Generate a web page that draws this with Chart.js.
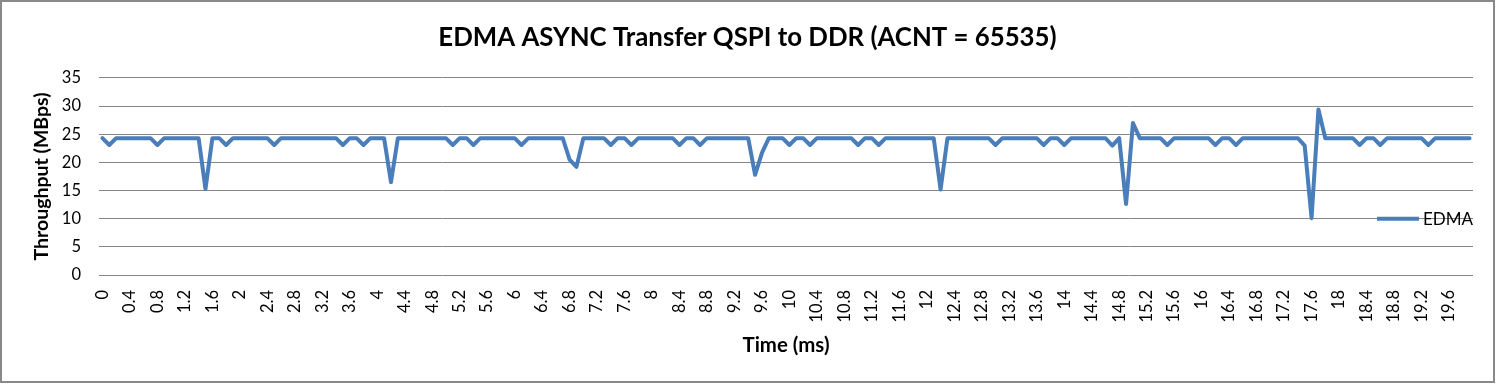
<!DOCTYPE html>
<html>
<head>
<meta charset="utf-8">
<title>EDMA ASYNC Transfer QSPI to DDR</title>
<script src="https://cdn.jsdelivr.net/npm/chart.js@4.4.1/dist/chart.umd.min.js"></script>
<style>
  body { margin: 0; background: #fff; }
  #wrap { position: absolute; left: 0; top: 0; width: 1491px; height: 379px; border: 2px solid #898989; background: #fff; }
</style>
</head>
<body>
<div id="wrap"><canvas id="chart"></canvas></div>
<script>
// Time axis categories (ms), one sample every 0.1 ms
const timeMs = [
  0, 0.1, 0.2, 0.3, 0.4, 0.5, 0.6, 0.7, 0.8, 0.9, 1, 1.1, 1.2, 1.3, 1.4, 1.5, 1.6, 1.7, 1.8, 1.9,
  2, 2.1, 2.2, 2.3, 2.4, 2.5, 2.6, 2.7, 2.8, 2.9, 3, 3.1, 3.2, 3.3, 3.4, 3.5, 3.6, 3.7, 3.8, 3.9,
  4, 4.1, 4.2, 4.3, 4.4, 4.5, 4.6, 4.7, 4.8, 4.9, 5, 5.1, 5.2, 5.3, 5.4, 5.5, 5.6, 5.7, 5.8, 5.9,
  6, 6.1, 6.2, 6.3, 6.4, 6.5, 6.6, 6.7, 6.8, 6.9, 7, 7.1, 7.2, 7.3, 7.4, 7.5, 7.6, 7.7, 7.8, 7.9,
  8, 8.1, 8.2, 8.3, 8.4, 8.5, 8.6, 8.7, 8.8, 8.9, 9, 9.1, 9.2, 9.3, 9.4, 9.5, 9.6, 9.7, 9.8, 9.9,
  10, 10.1, 10.2, 10.3, 10.4, 10.5, 10.6, 10.7, 10.8, 10.9, 11, 11.1, 11.2, 11.3, 11.4, 11.5, 11.6, 11.7, 11.8, 11.9,
  12, 12.1, 12.2, 12.3, 12.4, 12.5, 12.6, 12.7, 12.8, 12.9, 13, 13.1, 13.2, 13.3, 13.4, 13.5, 13.6, 13.7, 13.8, 13.9,
  14, 14.1, 14.2, 14.3, 14.4, 14.5, 14.6, 14.7, 14.8, 14.9, 15, 15.1, 15.2, 15.3, 15.4, 15.5, 15.6, 15.7, 15.8, 15.9,
  16, 16.1, 16.2, 16.3, 16.4, 16.5, 16.6, 16.7, 16.8, 16.9, 17, 17.1, 17.2, 17.3, 17.4, 17.5, 17.6, 17.7, 17.8, 17.9,
  18, 18.1, 18.2, 18.3, 18.4, 18.5, 18.6, 18.7, 18.8, 18.9, 19, 19.1, 19.2, 19.3, 19.4, 19.5, 19.6, 19.7, 19.8, 19.9
];

// EDMA throughput (MBps)
const edmaThroughput = [
  24.3, 23.1, 24.3, 24.3, 24.3, 24.3, 24.3, 24.3, 23.1, 24.3, 24.3, 24.3, 24.3, 24.3, 24.3, 15.3, 24.3, 24.3, 23.1, 24.3,
  24.3, 24.3, 24.3, 24.3, 24.3, 23.1, 24.3, 24.3, 24.3, 24.3, 24.3, 24.3, 24.3, 24.3, 24.3, 23.1, 24.3, 24.3, 23.1, 24.3,
  24.3, 24.3, 16.5, 24.3, 24.3, 24.3, 24.3, 24.3, 24.3, 24.3, 24.3, 23.1, 24.3, 24.3, 23.1, 24.3, 24.3, 24.3, 24.3, 24.3,
  24.3, 23.1, 24.3, 24.3, 24.3, 24.3, 24.3, 24.3, 20.5, 19.2, 24.3, 24.3, 24.3, 24.3, 23.1, 24.3, 24.3, 23.1, 24.3, 24.3,
  24.3, 24.3, 24.3, 24.3, 23.1, 24.3, 24.3, 23.1, 24.3, 24.3, 24.3, 24.3, 24.3, 24.3, 24.3, 17.8, 21.7, 24.3, 24.3, 24.3,
  23.1, 24.3, 24.3, 23.1, 24.3, 24.3, 24.3, 24.3, 24.3, 24.3, 23.1, 24.3, 24.3, 23.1, 24.3, 24.3, 24.3, 24.3, 24.3, 24.3,
  24.3, 24.3, 15.2, 24.3, 24.3, 24.3, 24.3, 24.3, 24.3, 24.3, 23.1, 24.3, 24.3, 24.3, 24.3, 24.3, 24.3, 23.1, 24.3, 24.3,
  23.1, 24.3, 24.3, 24.3, 24.3, 24.3, 24.3, 23.0, 24.3, 12.6, 27.0, 24.3, 24.3, 24.3, 24.3, 23.1, 24.3, 24.3, 24.3, 24.3,
  24.3, 24.3, 23.1, 24.3, 24.3, 23.1, 24.3, 24.3, 24.3, 24.3, 24.3, 24.3, 24.3, 24.3, 24.3, 23.0, 10.1, 29.4, 24.3, 24.3,
  24.3, 24.3, 24.3, 23.1, 24.3, 24.3, 23.1, 24.3, 24.3, 24.3, 24.3, 24.3, 24.3, 23.1, 24.3, 24.3, 24.3, 24.3, 24.3, 24.3
];

const yTicks = [0, 5, 10, 15, 20, 25, 30, 35];
const labelEvery = 4; // Excel shows every 4th time label

const FONT = 'Lato, "Open Sans", sans-serif';
const lineColor = '#4a7ebb';

// Excel style legend drawn inside the plot, right side
const sideLegend = {
    id: 'sideLegend',
    afterDraw(chart) {
        const ctx = chart.ctx;
        const ds = chart.data.datasets[0];
        const y = chart.scales.y.getPixelForValue(10);
        const x = chart.chartArea.right - 96;
        ctx.save();
        ctx.strokeStyle = ds.borderColor;
        ctx.lineWidth = ds.borderWidth;
        ctx.beginPath();
        ctx.moveTo(x, y);
        ctx.lineTo(x + 42, y);
        ctx.stroke();
        ctx.fillStyle = '#000';
        ctx.font = '17px ' + FONT;
        ctx.textBaseline = 'middle';
        ctx.fillText(ds.label, x + 46, y + 1);
        ctx.restore();
    }
};

const ctx = document.getElementById('chart').getContext('2d');
const chart = new Chart(ctx, {
    type: 'line',
    data: {
        labels: timeMs,
        datasets: [{
            label: 'EDMA',
            data: edmaThroughput,
            borderColor: lineColor,
            backgroundColor: lineColor,
            borderWidth: 4,
            pointRadius: 0,
            tension: 0,
            borderJoinStyle: 'round',
            borderCapStyle: 'round',
            fill: false
        }]
    },
    options: {
        responsive: true,
        maintainAspectRatio: false,
        animation: false,
        // equal side padding keeps the title centred on the whole chart
        layout: { padding: { left: 20, right: 20, top: 0, bottom: 0 } },
        plugins: {
            legend: { display: false },
            tooltip: { enabled: false },
            title: {
                display: true,
                text: 'EDMA ASYNC Transfer QSPI to DDR (ACNT = 65535)',
                color: '#000',
                font: { family: FONT, size: 25.8, weight: 'bold' },
                padding: { top: 20, bottom: 25 }
            }
        },
        scales: {
            x: {
                type: 'category',
                offset: true,
                grid: { display: false, drawTicks: false },
                border: { display: false },
                ticks: {
                    autoSkip: false,
                    minRotation: 90,
                    maxRotation: 90,
                    padding: 15,
                    color: '#000',
                    font: { family: FONT, size: 16.5 },
                    callback: function(value, index) {
                        return index % labelEvery === 0 ? this.getLabelForValue(value) : null;
                    }
                },
                title: {
                    display: true,
                    text: 'Time (ms)',
                    color: '#000',
                    font: { family: FONT, size: 20.4, weight: 'bold' },
                    padding: { top: 0, bottom: 23.5 }
                },
                afterFit: function(scale) { scale.height = 106; }
            },
            y: {
                min: yTicks[0],
                max: yTicks[yTicks.length - 1],
                grid: { color: '#868686', lineWidth: 1, drawTicks: false },
                border: { display: false },
                afterBuildTicks: function(scale) {
                    scale.ticks = yTicks.map(v => ({ value: v }));
                },
                ticks: {
                    padding: 18,
                    color: '#000',
                    font: { family: FONT, size: 16.5 }
                },
                title: {
                    display: true,
                    text: 'Throughput (MBps)',
                    color: '#000',
                    font: { family: FONT, size: 19.5, weight: 'bold' },
                    padding: { top: 8, bottom: 0 }
                },
                afterFit: function(scale) { scale.width = 77; }
            }
        }
    },
    plugins: [sideLegend]
});
</script>
</body>
</html>
